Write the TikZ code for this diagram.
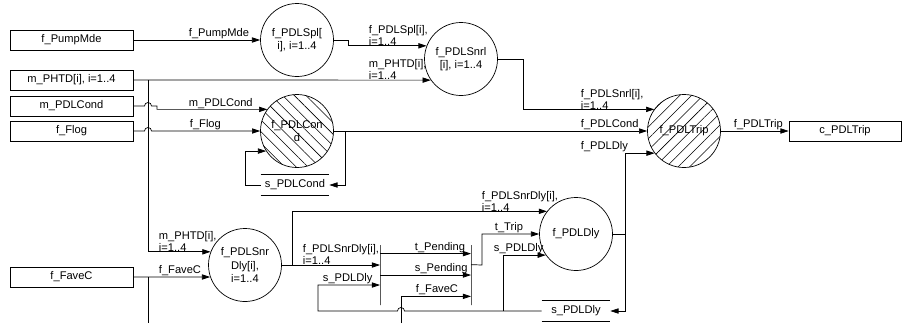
\documentclass[tikz,border=0pt]{standalone}
\usepackage{fontspec}
\setmainfont{Liberation Sans}
\usepackage{tikz}
\usetikzlibrary{arrows.meta,calc,patterns.meta}

\begin{document}
\begin{tikzpicture}[x=0.03cm,y=-0.03cm,line width=0.6pt,
  font=\fontsize{9.5}{11.5}\selectfont,
  ext/.style={draw,minimum width=3.69cm,minimum height=0.6cm,inner sep=0pt},
  proc/.style={draw,circle,minimum size=2.19cm,inner sep=0pt,align=center},
  hatchA/.style={pattern={Lines[angle=-45,distance=7pt,line width=0.5pt]}},
  hatchB/.style={pattern={Lines[angle=45,distance=7pt,line width=0.5pt]}},
  store/.style={minimum width=2.04cm,minimum height=0.6cm,inner sep=0pt},
  bar/.style={draw,minimum width=0pt,minimum height=1.8cm,inner sep=0pt},
  lbl/.style={anchor=south west,align=left,inner sep=0.5pt,
              font=\fontsize{9.5}{10}\selectfont},
  arr/.style={-{Triangle[length=7pt,width=4.5pt]}},
  hop/.style={radius=3pt}
]
\useasboundingbox (0,0) rectangle (903,323);

% external entities
\node[ext] (pump)  at (71.5,40)  {f\_PumpMde};
\node[ext] (phtd)  at (71.5,80)  {m\_PHTD[i], i=1..4};
\node[ext] (pdlc)  at (71.5,106) {m\_PDLCond};
\node[ext] (flog)  at (71.5,131) {f\_Flog};
\node[ext] (favec) at (71.5,277) {f\_FaveC};
\node[ext,minimum width=3.36cm] (ctrip) at (845,131) {c\_PDLTrip};

% processes
\node[proc] (spl)    at (297,40)  {f\_PDLSpl[\\i], i=1..4};
\node[proc] (snrl)   at (461,59)  {f\_PDLSnrl\\{}[i], i=1..4};
\node[proc,hatchA] (cond) at (297,131) {f\_PDLCon\\d};
\node[proc,hatchB] (trip) at (684,131) {f\_PDLTrip};
\node[proc] (snrdly) at (245,265) {f\_PDLSnr\\Dly[i],\\i=1..4};
\node[proc] (dly)    at (576,234) {f\_PDLDly};

% stores
\node[store] (stc) at (295,185) {s\_PDLCond};
\draw (stc.north west) -- (stc.north east) (stc.south west) -- (stc.south east);
\node[store] (std) at (576,311) {s\_PDLDly};
\draw (std.north west) -- (std.north east) (std.south west) -- (std.south east);

% bars
\node[bar] (bar1) at (380,275) {};
\node[bar] (bar2) at (471,275) {};

% junctions
\coordinate (j1) at (148,80);
\coordinate (j2) at (345,131);
\coordinate (j3) at (625,234);
\coordinate (j4) at (503,311);
\coordinate (j5) at (292,265);
\coordinate (j6) at (148,277);
\coordinate (fvout) at (148,323);
\coordinate (fvin) at (401,323);

% flows
\draw[arr] (pump.east) -- (spl.west);
\draw[arr] (spl.east) -- (348,40) |- (snrl.159.1);
\draw[arr] (phtd.east) -- (snrl.215.1);
\draw[arr] (j1) |- (snrdly.159.1);
\draw[arr] (pdlc.east) -- (144.5,106) arc[start angle=180,end angle=0,hop]
  -- (157,106) |- (cond.144.9);
\draw[arr] (flog.east) -- (144.5,131) arc[start angle=180,end angle=0,hop]
  -- (cond.west);
\draw[arr] (stc.west) -- (245,185) |- (cond.213.2);
\draw[arr] (cond.east) -- (trip.west);
\draw[arr] (j2) |- (stc.east);
\draw[arr] (snrl.east) -- (523,59) |- (trip.144.9);
\draw[arr] (trip.east) -- (ctrip.west);
\draw[arr] (favec.east) -- (snrdly.199.2);
\draw (j6) -- (fvout);
\draw[arr] (snrdly.east) -- ($(bar1.center)+(0,-10)$);
\draw[arr] (j5) |- (dly.142.9);
\draw[arr] ($(bar1.north)+(0,9)$) -- ($(bar2.north)+(0,9)$);
\draw[arr] (bar1.center) -- (bar2.center);
\draw[arr] (fvin) |- ($(bar2.south)+(0,-9)$);
\draw[arr] ($(bar2.north)+(0,20)$) -- (482,265) |- (dly.west);
\draw[arr] (dly.east) -- (j3) |- (trip.217.1);
\draw[arr] (j3) |- (std.east);
\draw[arr] (std.west) -- (404.5,311) arc[start angle=0,end angle=180,hop]
  -- (318,311) |- ($(bar1.center)+(0,10)$);
\draw[arr] (j4) |- (dly.215.1);

% flow labels
\node[lbl] at (188,40)  {f\_PumpMde};
\node[lbl] at (368,46)  {f\_PDLSpl[i],\\i=1..4};
\node[lbl] at (368,80)  {m\_PHTD[i],\\i=1..4};
\node[lbl] at (188,110) {m\_PDLCond};
\node[lbl] at (189,131) {f\_Flog};
\node[lbl] at (580,110) {f\_PDLSnrl[i],\\i=1..4};
\node[lbl] at (580,131) {f\_PDLCond};
\node[lbl] at (580,153) {f\_PDLDly};
\node[lbl] at (733,131) {f\_PDLTrip};
\node[lbl] at (158,252) {m\_PHTD[i],\\i=1..4};
\node[lbl] at (158,277) {f\_FaveC};
\node[lbl] at (302,265) {f\_PDLSnrDly[i],\\i=1..4};
\node[lbl] at (322,285) {s\_PDLDly};
\node[lbl] at (414,254) {t\_Pending};
\node[lbl] at (414,275) {s\_Pending};
\node[lbl] at (415,296) {f\_FaveC};
\node[lbl] at (481,212) {f\_PDLSnrDly[i],\\i=1..4};
\node[lbl] at (494,234) {t\_Trip};
\node[lbl] at (493,255) {s\_PDLDly};
\end{tikzpicture}
\end{document}
